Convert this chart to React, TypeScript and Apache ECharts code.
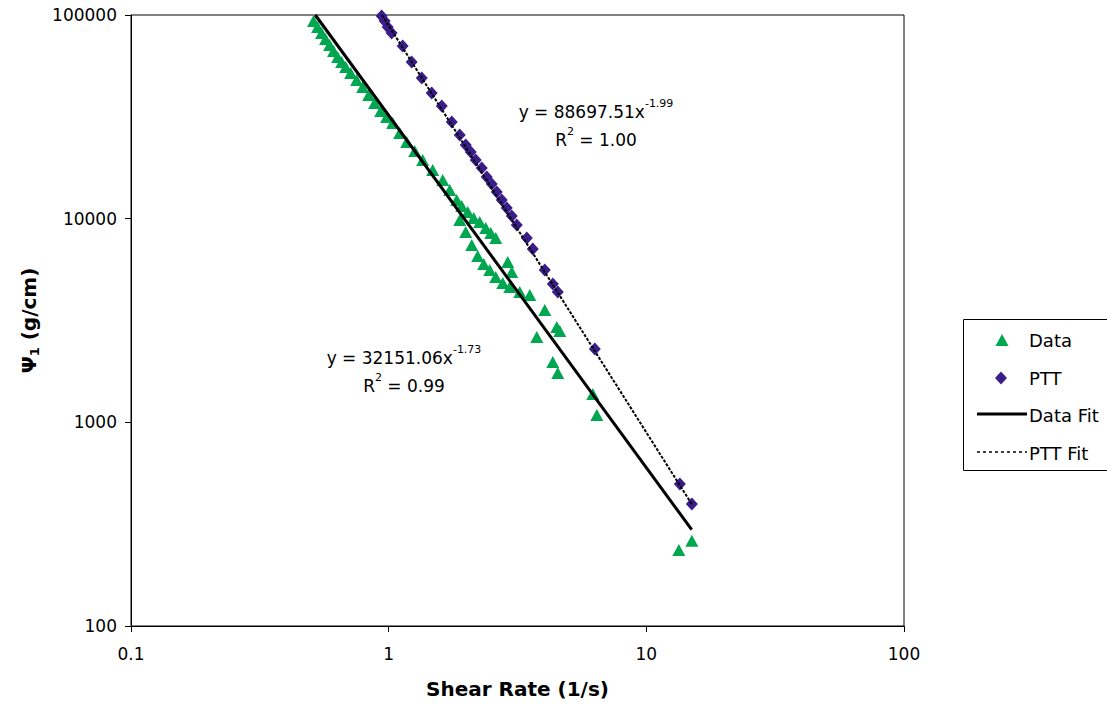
import React, { useEffect, useRef } from "react";
import * as echarts from "echarts";

const dataX = [0.511,0.530,0.549,0.569,0.590,0.611,0.634,0.657,0.681,0.712,0.751,0.793,0.837,0.882,0.931,0.982,1.036,1.103,1.175,1.262,1.355,1.482,1.621,1.726,1.837,1.921,2.027,2.138,2.256,2.381,2.490,2.603,1.887,1.991,2.101,2.216,2.338,2.468,2.603,2.772,2.951,3.227,3.529,2.898,3.004,4.035,4.493,4.614,3.757,4.335,4.533,6.198,6.424,13.37,15.02];
const dataY = [93430,87300,81600,76250,71250,66560,62200,58800,55560,51920,47970,44320,40480,36980,33790,31570,29500,26340,23790,21490,19420,17340,15490,13830,12350,11540,10790,10080,9630,9000,8510,8040,9850,8600,7430,6560,5990,5600,5170,4834,4620,4367,4221,6130,5474,3563,2940,2810,2626,1979,1748,1379,1087,236,262];

const pttX = [0.939,0.965,0.991,1.027,1.133,1.228,1.344,1.469,1.607,1.757,1.887,1.991,2.082,2.177,2.297,2.402,2.512,2.627,2.747,2.873,3.004,3.141,3.436,3.625,4.035,4.335,4.533,6.310,13.49,15.02];
const pttY = [98880,93430,87340,81580,70430,58800,49060,41410,35750,29830,25750,23000,21250,19420,17740,16020,14800,13530,12350,11290,10310,9313,8040,7100,5600,4780,4367,2293,498,397];

const dataFitX = [0.519, 15.0];
const dataFitY = [100000, 297];
const pttFitX = [0.942, 15.0];
const pttFitY = [100000, 397];

const xTicks = [0.1, 1, 10, 100];
const yTicks = [100, 1000, 10000, 100000];

const GREEN = "#00a650";
const PURPLE = "#3b1d8a";
const FONT = "DejaVu Sans, Liberation Sans, sans-serif";

const zip = (xs: number[], ys: number[]) => xs.map((x, i) => [x, ys[i]]);

export default function App() {
  const ref = useRef<HTMLDivElement>(null);
  useEffect(() => {
    if (!ref.current) return;
    const chart = echarts.init(ref.current, null, { renderer: "svg" });
    const fmt = (v: number) => String(Number(v.toPrecision(6)));
    const eqRich = {
      m: { fontSize: 17, fontFamily: FONT, color: "#000", lineHeight: 28 },
      s: { fontSize: 11, fontFamily: FONT, color: "#000", lineHeight: 12, verticalAlign: "top" },
    };
    chart.setOption({
      animation: false,
      backgroundColor: "#fff",
      textStyle: { fontFamily: FONT },
      grid: { left: 131, right: 203, top: 15, bottom: 80, show: true, borderColor: "#000", borderWidth: 1, backgroundColor: "#fff" },
      xAxis: {
        type: "log",
        logBase: 10,
        min: xTicks[0],
        max: xTicks[xTicks.length - 1],
        name: "Shear Rate (1/s)",
        nameLocation: "middle",
        nameGap: 53,
        nameTextStyle: { fontSize: 20, fontWeight: "bold", color: "#000", fontFamily: FONT },
        axisLine: { show: true, lineStyle: { color: "#000", width: 1 } },
        axisTick: { show: true, length: 6, lineStyle: { color: "#000" } },
        minorTick: { show: false },
        splitLine: { show: false },
        axisLabel: { fontSize: 17, color: "#000", margin: 19, formatter: fmt, fontFamily: FONT },
      },
      yAxis: {
        type: "log",
        logBase: 10,
        min: yTicks[0],
        max: yTicks[yTicks.length - 1],
        name: "{b|Ψ}{sub|1}{b| (g/cm)}",
        nameLocation: "middle",
        nameGap: 90,
        nameRotate: 90,
        nameTextStyle: {
          rich: {
            b: { fontSize: 20, fontWeight: "bold", color: "#000", fontFamily: FONT, lineHeight: 24 },
            sub: { fontSize: 13, fontWeight: "bold", color: "#000", fontFamily: FONT, lineHeight: 12, verticalAlign: "bottom" },
          },
        },
        axisLine: { show: true, lineStyle: { color: "#000", width: 1 } },
        axisTick: { show: true, length: 6, lineStyle: { color: "#000" } },
        splitLine: { show: false },
        axisLabel: { fontSize: 17, color: "#000", margin: 14, formatter: fmt, fontFamily: FONT },
      },
      series: [
        {
          name: "Data",
          type: "scatter",
          symbol: "triangle",
          symbolSize: [13, 12],
          itemStyle: { color: GREEN, opacity: 1 },
          data: zip(dataX, dataY),
          z: 2,
        },
        {
          name: "PTT",
          type: "scatter",
          symbol: "diamond",
          symbolSize: [12, 13],
          itemStyle: { color: PURPLE, opacity: 1 },
          data: zip(pttX, pttY),
          z: 2,
        },
        {
          name: "Data Fit",
          type: "line",
          symbol: "none",
          lineStyle: { color: "#000", width: 3 },
          data: zip(dataFitX, dataFitY),
          z: 3,
        },
        {
          name: "PTT Fit",
          type: "line",
          symbol: "none",
          lineStyle: { color: "#000", width: 2, type: [3, 1.5] },
          data: zip(pttFitX, pttFitY),
          z: 3,
        },
      ],
      graphic: [
        {
          type: "text",
          x: 596,
          y: 126,
          style: {
            text: "{m|y = 88697.51x}{s|-1.99}\n{m|R}{s|2}{m| = 1.00}",
            align: "center",
            verticalAlign: "middle",
            rich: eqRich,
          },
        },
        {
          type: "text",
          x: 404,
          y: 372,
          style: {
            text: "{m|y = 32151.06x}{s|-1.73}\n{m|R}{s|2}{m| = 0.99}",
            align: "center",
            verticalAlign: "middle",
            rich: eqRich,
          },
        },
        {
          type: "rect",
          shape: { x: 963.5, y: 319.5, width: 160, height: 151 },
          style: { fill: "#fff", stroke: "#000", lineWidth: 1 },
        },
        {
          type: "polygon",
          shape: { points: [[995.5, 346], [1008.5, 346], [1002, 334]] },
          style: { fill: GREEN },
        },
        {
          type: "polygon",
          shape: { points: [[1001, 371.5], [1007, 378], [1001, 384.5], [995, 378]] },
          style: { fill: PURPLE },
        },
        {
          type: "line",
          shape: { x1: 977, y1: 414, x2: 1027, y2: 414 },
          style: { stroke: "#000", lineWidth: 3 },
        },
        {
          type: "line",
          shape: { x1: 977, y1: 452, x2: 1027, y2: 452 },
          style: { stroke: "#000", lineWidth: 1.5, lineDash: [3, 3] },
        },
        ...["Data", "PTT", "Data Fit", "PTT Fit"].map((t, i) => ({
          type: "text",
          x: 1029,
          y: [340, 378, 415, 453][i],
          style: { text: t, fontSize: 18, fontFamily: FONT, fill: "#000", verticalAlign: "middle", align: "left" },
        })),
      ],
    });
    return () => chart.dispose();
  }, []);
  return <div ref={ref} style={{ position: "fixed", left: 0, top: 0, width: 1107, height: 706 }} />;
}
